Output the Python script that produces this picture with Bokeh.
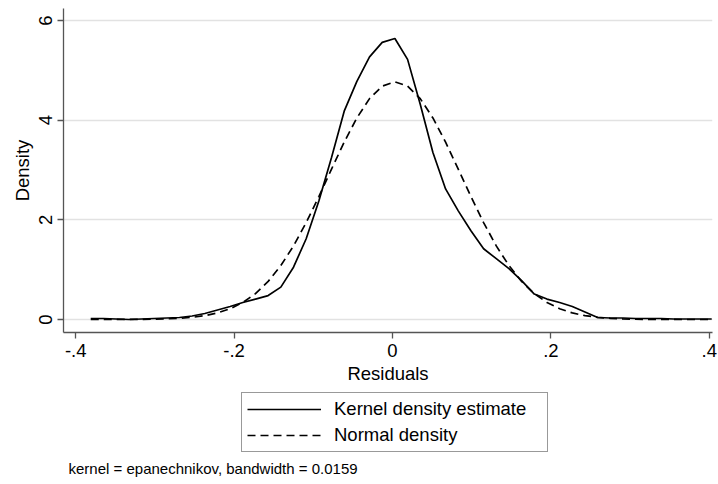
from bokeh.plotting import figure
from bokeh.models import Legend, LegendItem, FixedTicker, Range1d, Label
from bokeh.layouts import column
from bokeh.embed import file_html
from bokeh.resources import INLINE

# grid of evaluation points (residuals)
residual_grid = [-0.381, -0.365, -0.349, -0.333, -0.317, -0.301, -0.285, -0.269, -0.253, -0.237,
                 -0.221, -0.205, -0.189, -0.173, -0.157, -0.141, -0.125, -0.109, -0.093, -0.077,
                 -0.061, -0.045, -0.029, -0.013, 0.003, 0.019, 0.035, 0.051, 0.067, 0.083,
                 0.099, 0.115, 0.131, 0.147, 0.163, 0.179, 0.195, 0.211, 0.227, 0.243,
                 0.259, 0.275, 0.291, 0.307, 0.323, 0.339, 0.355, 0.371, 0.387, 0.403]

kernel_density = [0.02, 0.02, 0.01, 0.00, 0.01, 0.02, 0.03, 0.04, 0.07, 0.12,
                  0.19, 0.26, 0.34, 0.41, 0.48, 0.65, 1.05, 1.62, 2.38, 3.25,
                  4.18, 4.78, 5.27, 5.56, 5.64, 5.22, 4.32, 3.35, 2.62, 2.18,
                  1.78, 1.42, 1.22, 1.02, 0.78, 0.51, 0.41, 0.34, 0.26, 0.15,
                  0.04, 0.03, 0.03, 0.02, 0.02, 0.02, 0.01, 0.01, 0.01, 0.01]

normal_density = [0.000, 0.000, 0.001, 0.001, 0.003, 0.006, 0.013, 0.024, 0.044, 0.077,
                  0.132, 0.216, 0.341, 0.520, 0.764, 1.082, 1.477, 1.944, 2.467, 3.018,
                  3.559, 4.045, 4.433, 4.683, 4.770, 4.683, 4.433, 4.045, 3.559, 3.018,
                  2.467, 1.944, 1.477, 1.082, 0.764, 0.520, 0.341, 0.216, 0.132, 0.077,
                  0.044, 0.024, 0.013, 0.006, 0.003, 0.001, 0.001, 0.000, 0.000, 0.000]

x_ticks = [-0.4, -0.2, 0, 0.2, 0.4]
x_tick_labels = ["-.4", "-.2", "0", ".2", ".4"]
y_ticks = [0, 2, 4, 6]
y_tick_labels = ["0", "2", "4", "6"]

series_labels = ["Kernel density estimate", "Normal density"]
note_text = "kernel = epanechnikov, bandwidth = 0.0159"

FONT = "Liberation Sans"
AXIS_COLOR = "#555555"
SOLID = dict(line_color="black", line_width=1.7)
DASHED = dict(line_color="black", line_width=1.7, line_dash="8 5")

# ---- main chart ----
p = figure(width=718, height=390, output_backend="svg", toolbar_location=None,
           x_range=Range1d(-0.4154, 0.404), y_range=Range1d(-0.261, 6.241),
           min_border_left=63, min_border_right=6, min_border_top=8, min_border_bottom=58)
p.outline_line_color = None
p.background_fill_color = "white"
p.border_fill_color = "white"

r_kernel = p.line(residual_grid, kernel_density, **SOLID)
r_normal = p.line(residual_grid, normal_density, **DASHED)

p.xaxis.ticker = FixedTicker(ticks=x_ticks)
p.xaxis.major_label_overrides = {t: l for t, l in zip(x_ticks, x_tick_labels)}
p.yaxis.ticker = FixedTicker(ticks=y_ticks)
p.yaxis.major_label_overrides = {t: l for t, l in zip(y_ticks, y_tick_labels)}
p.yaxis.major_label_orientation = "vertical"

for ax in (p.xaxis, p.yaxis):
    ax.axis_line_color = AXIS_COLOR
    ax.axis_line_width = 1.3
    ax.major_tick_line_color = AXIS_COLOR
    ax.major_tick_line_width = 1.3
    ax.major_tick_out = 6
    ax.major_tick_in = 0
    ax.minor_tick_line_color = None
    ax.major_label_text_font = FONT
    ax.major_label_text_font_size = "18.5px"
    ax.major_label_text_color = "black"
    ax.axis_label_text_font = FONT
    ax.axis_label_text_font_size = "18.5px"
    ax.axis_label_text_font_style = "normal"
    ax.axis_label_text_color = "black"

p.xaxis.axis_label = "Residuals"
p.yaxis.axis_label = "Density"
p.xaxis.major_label_standoff = 5
p.xaxis.axis_label_standoff = 3
p.yaxis.major_label_standoff = 5
p.yaxis.axis_label_standoff = 4

p.xgrid.grid_line_color = None
p.ygrid.grid_line_color = "#e2e2e2"
p.ygrid.grid_line_width = 1.3

# ---- legend and note panel (keys drawn from the same series, kept out of view) ----
p2 = figure(width=718, height=94, output_backend="svg", toolbar_location=None,
            x_axis_location=None, y_axis_location=None,
            x_range=Range1d(5, 6), y_range=Range1d(5, 6),
            min_border_left=63, min_border_right=6, min_border_top=0, min_border_bottom=0)
p2.outline_line_color = None
p2.background_fill_color = "white"
p2.border_fill_color = "white"
p2.grid.grid_line_color = None

k_key = p2.line(residual_grid, kernel_density, **SOLID)
n_key = p2.line(residual_grid, normal_density, **DASHED)

legend = Legend(items=[LegendItem(label=series_labels[0], renderers=[k_key]),
                       LegendItem(label=series_labels[1], renderers=[n_key])],
                location=(178, 32), orientation="vertical", margin=0,
                padding=5, spacing=4, glyph_width=74, glyph_height=22,
                label_height=22, label_width=208, label_standoff=13,
                label_text_font=FONT, label_text_font_size="18.5px",
                label_text_color="black", border_line_color="#333333",
                border_line_width=1.2, background_fill_color="white",
                background_fill_alpha=1.0)
p2.add_layout(legend, "center")

note = Label(x=5, y=16, x_units="screen", y_units="screen", text=note_text,
             text_font=FONT, text_font_size="15px", text_color="black",
             text_baseline="middle", text_align="left")
p2.add_layout(note)

layout = column(p, p2, spacing=0)
open("out.html", "w").write(file_html(layout, INLINE))
